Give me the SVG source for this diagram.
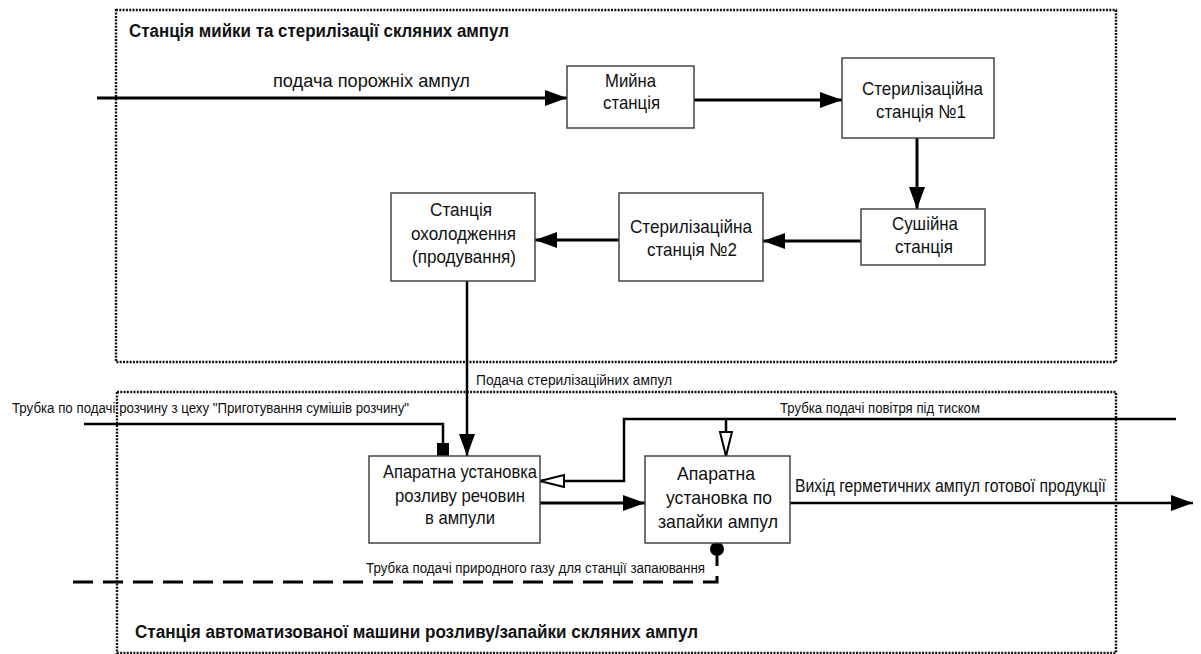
<svg xmlns="http://www.w3.org/2000/svg" width="1201" height="654" viewBox="0 0 1201 654">
  <style>
    text { font-family: "Liberation Sans Narrow", "Liberation Sans", Arial, sans-serif; fill: #111; }
    .box { fill: #fff; stroke: #444; stroke-width: 1.5; }
    .bt { font-size: 19px; text-anchor: start; }
    .lbl { font-size: 14px; }
    .lbl2 { font-size: 18px; }
    .title { font-size: 18px; font-weight: bold; }
    .frame { fill: none; stroke: #111; stroke-width: 2.4; stroke-dasharray: 2 1.3; }
    .flow { fill: none; stroke: #000; stroke-width: 3; }
    .pipe { fill: none; stroke: #000; stroke-width: 2.5; }
    .gas { fill: none; stroke: #000; stroke-width: 3; stroke-dasharray: 20 10; }
  </style>
  <defs>
    <marker id="solid" markerUnits="userSpaceOnUse" markerWidth="24" markerHeight="16" refX="22" refY="8" orient="auto">
      <path d="M0,0 L22,8 L0,16 Z" fill="#000"/>
    </marker>
    <marker id="open" markerUnits="userSpaceOnUse" markerWidth="28" markerHeight="16" refX="25" refY="7" orient="auto">
      <path d="M1,1 L25,7 L1,13 Z" fill="#fff" stroke="#000" stroke-width="2"/>
    </marker>
  </defs>

  <rect width="1201" height="654" fill="#fff"/>

  <!-- station frames -->
  <g id="washing-station">
    <rect class="frame" x="116" y="10" width="1000" height="352"/>
    <text class="title" x="129" y="37" textLength="380" lengthAdjust="spacingAndGlyphs">Станція мийки та стерилізації скляних ампул</text>
  </g>
  <g id="filling-station">
    <rect class="frame" x="117" y="392" width="999" height="261"/>
    <text class="title" x="135" y="638" textLength="563" lengthAdjust="spacingAndGlyphs">Станція автоматизованої машини розливу/запайки скляних ампул</text>
  </g>

  <!-- connectors -->
  <g id="connectors">
    <line class="flow" x1="97" y1="98" x2="567" y2="98" marker-end="url(#solid)"/>
    <line class="flow" x1="694" y1="100" x2="842" y2="100" marker-end="url(#solid)"/>
    <line class="flow" x1="917" y1="138" x2="917" y2="209" marker-end="url(#solid)"/>
    <line class="flow" x1="861" y1="241" x2="763" y2="241" marker-end="url(#solid)"/>
    <line class="flow" x1="619" y1="240" x2="535" y2="240" marker-end="url(#solid)"/>
    <line class="pipe" x1="467" y1="281" x2="467" y2="456" marker-end="url(#solid)"/>
    <!-- solution pipe -->
    <path class="pipe" d="M84,424 H443 V446"/>
    <rect x="437" y="443" width="12" height="13" fill="#000"/>
    <!-- compressed air -->
    <path class="pipe" d="M1176,419 H624 V481 H540" marker-end="url(#open)"/>
    <line class="pipe" x1="726" y1="419" x2="726" y2="456" marker-end="url(#open)"/>
    <line class="flow" x1="540" y1="503" x2="645" y2="503" marker-end="url(#solid)"/>
    <line class="pipe" x1="790" y1="503" x2="1193" y2="503" marker-end="url(#solid)"/>
    <!-- natural gas -->
    <path class="gas" d="M73,582 H717 V556"/>
    <circle cx="717" cy="549" r="7" fill="#000"/>

    <text class="lbl2" x="273" y="87" textLength="197" lengthAdjust="spacingAndGlyphs">подача порожніх ампул</text>
    <text class="lbl" x="476" y="385" textLength="196" lengthAdjust="spacingAndGlyphs">Подача стерилізаційних ампул</text>
    <text class="lbl" x="12" y="413" textLength="397" lengthAdjust="spacingAndGlyphs">Трубка по подачі  розчину з цеху "Приготування сумішів розчину"</text>
    <text class="lbl" x="780" y="413" textLength="200" lengthAdjust="spacingAndGlyphs">Трубка подачі повітря під тиском</text>
    <text class="lbl2" x="795" y="492" textLength="311" lengthAdjust="spacingAndGlyphs">Вихід герметичних ампул готової продукції</text>
    <text class="lbl" x="366" y="573" textLength="339" lengthAdjust="spacingAndGlyphs">Трубка подачі природного газу для станції запаювання</text>
  </g>

  <!-- process units -->
  <g id="washer">
    <rect class="box" x="567" y="66" width="127" height="62"/>
    <text class="bt" x="605" y="87" textLength="51" lengthAdjust="spacingAndGlyphs">Мийна</text>
    <text class="bt" x="603" y="109" textLength="57" lengthAdjust="spacingAndGlyphs">станція</text>
  </g>
  <g id="sterilizer-1">
    <rect class="box" x="842" y="58" width="152" height="80"/>
    <text class="bt" x="862" y="95" textLength="121" lengthAdjust="spacingAndGlyphs">Стерилізаційна</text>
    <text class="bt" x="876" y="118" textLength="90" lengthAdjust="spacingAndGlyphs">станція №1</text>
  </g>
  <g id="dryer">
    <rect class="box" x="861" y="209" width="124" height="56"/>
    <text class="bt" x="892" y="230" textLength="66" lengthAdjust="spacingAndGlyphs">Сушійна</text>
    <text class="bt" x="895" y="253" textLength="58" lengthAdjust="spacingAndGlyphs">станція</text>
  </g>
  <g id="sterilizer-2">
    <rect class="box" x="619" y="193" width="144" height="88"/>
    <text class="bt" x="630" y="233" textLength="122" lengthAdjust="spacingAndGlyphs">Стерилізаційна</text>
    <text class="bt" x="647" y="256" textLength="90" lengthAdjust="spacingAndGlyphs">станція №2</text>
  </g>
  <g id="cooler">
    <rect class="box" x="391" y="193" width="144" height="88"/>
    <text class="bt" x="430" y="216" textLength="62" lengthAdjust="spacingAndGlyphs">Станція</text>
    <text class="bt" x="411" y="240" textLength="105" lengthAdjust="spacingAndGlyphs">охолодження</text>
    <text class="bt" x="412" y="263" textLength="104" lengthAdjust="spacingAndGlyphs">(продування)</text>
  </g>
  <g id="filler">
    <rect class="box" x="369" y="456" width="171" height="87"/>
    <text class="bt" x="383" y="478" textLength="154" lengthAdjust="spacingAndGlyphs">Апаратна установка</text>
    <text class="bt" x="395" y="502" textLength="130" lengthAdjust="spacingAndGlyphs">розливу речовин</text>
    <text class="bt" x="425" y="524" textLength="70" lengthAdjust="spacingAndGlyphs">в ампули</text>
  </g>
  <g id="sealer">
    <rect class="box" x="645" y="456" width="145" height="87"/>
    <text class="bt" x="677" y="480" textLength="78" lengthAdjust="spacingAndGlyphs">Апаратна</text>
    <text class="bt" x="666" y="504" textLength="106" lengthAdjust="spacingAndGlyphs">установка по</text>
    <text class="bt" x="658" y="528" textLength="120" lengthAdjust="spacingAndGlyphs">запайки ампул</text>
  </g>
</svg>
